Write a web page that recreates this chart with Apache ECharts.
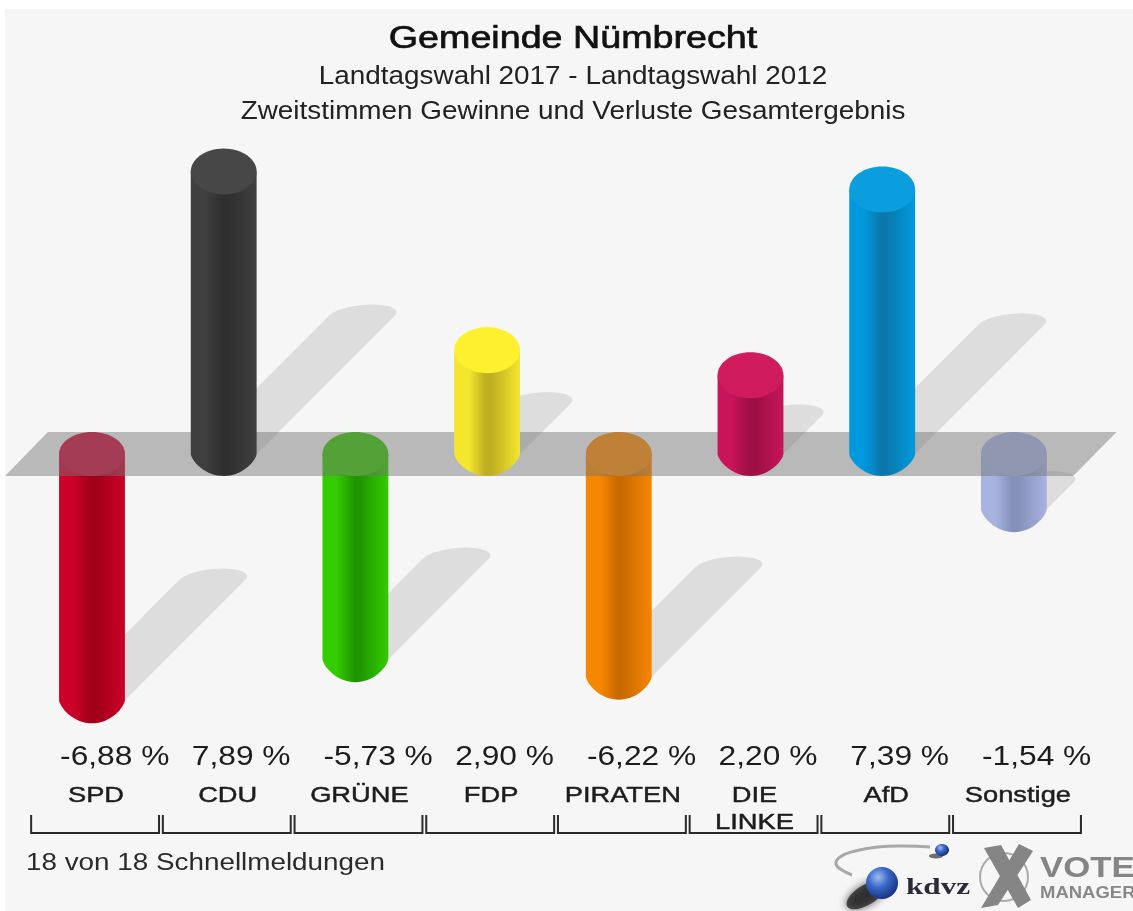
<!DOCTYPE html>
<html>
<head>
<meta charset="utf-8">
<title>Gemeinde Nümbrecht</title>
<script src="https://cdn.jsdelivr.net/npm/echarts@6/dist/echarts.min.js"></script>
<style>
html,body{margin:0;padding:0;background:#fff;overflow:hidden}
#chart{width:1133px;height:911px;filter:blur(0.45px)}
</style>
</head>
<body>
<div id="chart"></div>
<script>
const categories = ['SPD','CDU','GRÜNE','FDP','PIRATEN','DIE\nLINKE','AfD','Sonstige'];
const tickNames  = ['SPD','CDU','GRÜNE','FDP','PIRATEN','DIE\nLINKE','AfD','Sonstige'];
const changes    = [-6.88, 7.89, -5.73, 2.90, -6.22, 2.20, 7.39, -1.54];
const changeText = ['-6,88 %','7,89 %','-5,73 %','2,90 %','-6,22 %','2,20 %','7,39 %','-1,54 %'];
const titleLines = ['Gemeinde Nümbrecht','Landtagswahl 2017 - Landtagswahl 2012','Zweitstimmen Gewinne und Verluste Gesamtergebnis'];
const footerText = '18 von 18 Schnellmeldungen';

const baseColors = ['#cc0028','#3f3f3f','#33cc00','#f3e62c','#f78600','#c8145a','#0099dd','#a8b3e0'];
const darkColors = ['#a00018','#2f2f2f','#1f9600','#bfae22','#c96a00','#9c0f42','#0b78ac','#8490b8'];
const capColors  = ['#cc0a38','#474747','#36c800','#fdf02f','#ff8d00','#d01c5c','#0a9ede','#aab3e6'];

const PLATE_RY = 22;
const CAP_RY = 23;

function bandGeom(api, i) {
  const cx = api.coord([i, 0])[0];
  const band = api.size([1, 0])[0];
  return { cx, band, rx: band * 0.25, zeroY: api.coord([i, 0])[1] };
}
function barGradient(i) {
  return new echarts.graphic.LinearGradient(0, 0, 1, 0, [
    { offset: 0, color: baseColors[i] },
    { offset: 0.22, color: baseColors[i] },
    { offset: 0.48, color: darkColors[i] },
    { offset: 0.56, color: darkColors[i] },
    { offset: 1, color: baseColors[i] }
  ]);
}
function ellipsePts(cx, cy, rx, ry) {
  const pts = [];
  for (let k = 0; k < 64; k++) {
    const t = k / 64 * Math.PI * 2;
    pts.push([cx + rx * Math.cos(t), cy + ry * Math.sin(t)]);
  }
  return pts;
}
// pointed-round lower end of a cylinder, going from the right side to the left side
function tipPts(cx, sideY, rx, ry) {
  const pts = [];
  for (let k = 0; k <= 32; k++) {
    const t = k / 32 * Math.PI;
    pts.push([cx + rx * Math.cos(t), sideY + ry * Math.pow(Math.sin(t), 1.4)]);
  }
  return pts;
}
function cylinder(i, cx, topC, topRy, botC, botRy, rx) {
  const body = [[cx - rx, topC], [cx + rx, topC]].concat(tipPts(cx, botC, rx, botRy));
  return [
    { type: 'polygon', shape: { points: body }, style: { fill: barGradient(i) } },
    { type: 'polygon', shape: { points: ellipsePts(cx, topC, rx, topRy) }, style: { fill: capColors[i] } }
  ];
}

function renderShadow(params, api) {
  const i = params.dataIndex, v = api.value(1);
  const g = bandGeom(api, i);
  const baseY = v < 0 ? api.coord([i, v])[1] : g.zeroY;
  const shift = Math.abs(api.size([0, v])[1]) * 0.49;
  const ex = g.cx + shift, ey = baseY - shift;
  const pts = [[g.cx - g.rx, baseY]];
  for (let k = 0; k <= 24; k++) {
    const t = Math.PI - k / 24 * Math.PI;
    pts.push([ex + g.rx * Math.cos(t) + 10 * Math.sin(t), ey - 11 * Math.sin(t)]);
  }
  pts.push([g.cx + g.rx, baseY]);
  return { type: 'polygon', shape: { points: pts }, style: { fill: '#dddddd' } };
}
function renderNegative(params, api) {
  const i = params.dataIndex, v = api.value(1);
  if (v >= 0) return null;
  const g = bandGeom(api, i);
  return { type: 'group', children: cylinder(i, g.cx, g.zeroY, PLATE_RY, api.coord([i, v])[1], CAP_RY, g.rx) };
}
function renderPlate(params, api) {
  if (params.dataIndex !== 0) return null;
  const n = categories.length;
  const a = api.coord([0, 0]), b = api.coord([n - 1, 0]);
  const band = api.size([1, 0])[0];
  const y = a[1];
  return {
    type: 'polygon',
    shape: { points: [
      [a[0] - band * 0.66, y + PLATE_RY],
      [a[0] - band * 0.335, y - PLATE_RY],
      [b[0] + band * 0.78, y - PLATE_RY],
      [b[0] + band * 0.45, y + PLATE_RY]
    ] },
    style: { fill: 'rgba(117,117,117,0.47)' }
  };
}
function renderPositive(params, api) {
  const i = params.dataIndex, v = api.value(1);
  if (v < 0) return null;
  const g = bandGeom(api, i);
  return { type: 'group', children: cylinder(i, g.cx, api.coord([i, v])[1], CAP_RY, g.zeroY, PLATE_RY, g.rx) };
}
function renderLabels(params, api) {
  const i = params.dataIndex;
  const g = bandGeom(api, i);
  const left = g.cx - g.band * 0.462, right = g.cx + g.band * 0.509;
  const top = 815, bottom = 833;
  return { type: 'group', children: [
    { type: 'text', x: g.cx - g.rx + 1, y: 758, scaleX: 1.175,
      style: { text: changeText[i], font: '27px "Liberation Sans"', fill: '#1c1c1c', textAlign: 'left', textVerticalAlign: 'middle' } },
    { type: 'text', x: g.cx + 4, y: 782, scaleX: 1.24,
      style: { text: tickNames[i], font: '22px "Liberation Sans"', fill: '#1c1c1c', stroke: '#1c1c1c', lineWidth: 0.45, textAlign: 'center', textVerticalAlign: 'top', lineHeight: 27 } },
    { type: 'polyline', shape: { points: [[left, top], [left, bottom], [right, bottom], [right, top]] },
      style: { stroke: '#2a2a2a', lineWidth: 2, fill: null } }
  ] };
}

function textEl(text, x, y, font, fill, align, sx, strokeW) {
  const style = { text, font, fill, textAlign: align || 'center', textVerticalAlign: 'middle' };
  if (strokeW) { style.stroke = fill; style.lineWidth = strokeW; }
  return { type: 'text', x, y, scaleX: sx, z: 20, style };
}

const seriesData = categories.map((c, i) => [i, changes[i]]);
function layer(name, renderItem, z) {
  return { type: 'custom', name, coordinateSystem: 'cartesian2d', data: seriesData, renderItem, z, silent: true, clip: false };
}

const sphere = new echarts.graphic.RadialGradient(0.38, 0.32, 0.72, [
  { offset: 0, color: '#9dbcf0' }, { offset: 0.45, color: '#3a68c8' }, { offset: 1, color: '#14307c' }
]);

const option = {
  animation: false,
  backgroundColor: '#ffffff',
  grid: { left: 26.15, width: 1053.6, top: 167.6, height: 572.8 },
  xAxis: { type: 'category', data: categories, show: false },
  yAxis: { type: 'value', min: -8, max: 8, interval: 2, show: false },
  graphic: { elements: [
    { type: 'rect', shape: { x: 5, y: 9, width: 1128, height: 902 }, style: { fill: '#f6f6f6' }, z: -10, silent: true },
    textEl(titleLines[0], 573, 39, '31px "Liberation Sans"', '#111', 'center', 1.215, 0.7),
    textEl(titleLines[1], 573, 77, '25px "Liberation Sans"', '#222', 'center', 1.115),
    textEl(titleLines[2], 573, 112, '25px "Liberation Sans"', '#222', 'center', 1.115),
    textEl(footerText, 26, 864, '23px "Liberation Sans"', '#2a2a2a', 'left', 1.21),
    // kdvz logo
    { type: 'polyline', z: 20, shape: { points: [[930, 847], [905, 846], [878, 847], [855, 851], [840, 857], [836, 864], [842, 870], [852, 875]], smooth: 0.5 },
      style: { stroke: '#a8a8a8', lineWidth: 3, fill: null } },
    { type: 'ellipse', z: 20, rotation: 0.55, x: 866, y: 895, shape: { cx: 0, cy: 0, rx: 22, ry: 10 }, style: { fill: '#222', opacity: 0.75, shadowBlur: 8, shadowColor: '#222' } },
    { type: 'circle', z: 21, shape: { cx: 882, cy: 883, r: 16 }, style: { fill: sphere } },
    { type: 'ellipse', z: 20, shape: { cx: 936, cy: 856, rx: 7, ry: 2.5 }, style: { fill: '#333', opacity: 0.7 } },
    { type: 'ellipse', z: 21, shape: { cx: 942, cy: 850, rx: 7, ry: 6 }, style: { fill: sphere } },
    textEl('kdvz', 906, 888, 'bold 24px "Liberation Serif"', '#2a2a3a', 'left', 1.3),
    // Vote Manager logo
    { type: 'circle', z: 20, shape: { cx: 1004, cy: 877, r: 24 }, style: { stroke: '#aaaaaa', lineWidth: 2, fill: null } },
    { type: 'polygon', z: 21, shape: { points: [[984, 848], [1001, 845], [1031, 900], [1018, 908]] }, style: { fill: '#858585' } },
    { type: 'polygon', z: 21, shape: { points: [[1019, 844], [1033, 851], [998, 905], [981, 908]] }, style: { fill: '#858585' } },
    textEl('VOTE', 1040, 869, 'bold 29px "Liberation Sans"', '#858585', 'left', 1.2),
    textEl('MANAGER', 1040, 893, 'bold 16.5px "Liberation Sans"', '#888888', 'left', 1.12)
  ] },
  series: [
    layer('Schatten', renderShadow, 1),
    layer('Verluste', renderNegative, 2),
    layer('Ebene', renderPlate, 3),
    layer('Gewinne', renderPositive, 4),
    layer('Beschriftung', renderLabels, 5)
  ]
};
echarts.init(document.getElementById('chart'), null, { renderer: 'canvas' }).setOption(option);
</script>
</body>
</html>
